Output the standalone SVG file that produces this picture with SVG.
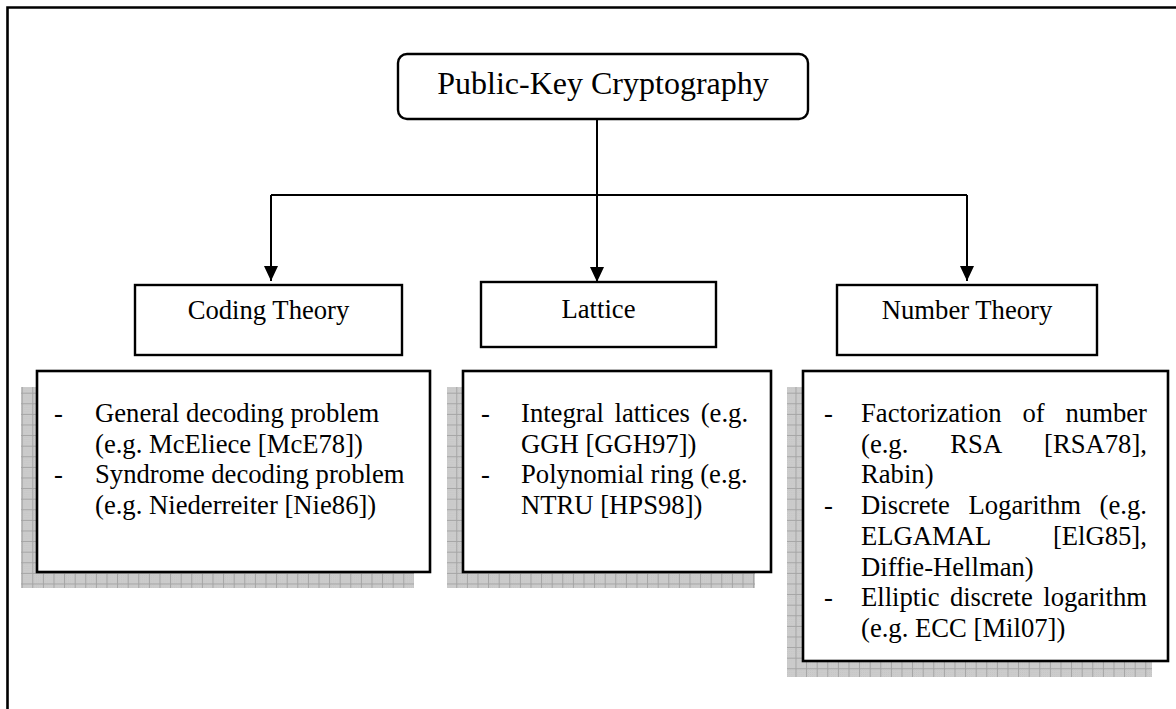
<svg xmlns="http://www.w3.org/2000/svg" width="1176" height="709" viewBox="0 0 1176 709">
  <style>
    .frame { fill: none; stroke: #000; stroke-width: 2.6; }
    .box { fill: #fff; stroke: #000; stroke-width: 2.4; }
    .card { fill: #fff; stroke: #000; stroke-width: 2.6; }
    .shadow { fill: url(#gridShade); }
    .wire { fill: none; stroke: #000; stroke-width: 2; }
    text { font-family: "Liberation Serif", "Times New Roman", serif; fill: #000; }
    .title { font-size: 32px; text-anchor: middle; }
    .label { font-size: 26.67px; text-anchor: middle; }
    .item { font-size: 26.67px; }
  </style>
  <defs>
    <!-- fine grain under the shadow grid -->
    <pattern id="grain" width="2" height="2" patternUnits="userSpaceOnUse">
      <rect width="2" height="2" fill="#d2d2d2"/>
      <rect width="1" height="1" fill="#c2c2c2"/>
      <rect x="1" y="1" width="1" height="1" fill="#c6c6c6"/>
    </pattern>
    <pattern id="gridShade" width="10.6" height="10.6" patternUnits="userSpaceOnUse" x="0.5" y="0.5">
      <rect width="10.6" height="10.6" fill="url(#grain)"/>
      <path d="M0,0.5 H10.6 M0.5,0 V10.6" stroke="#a4a4a4" stroke-width="1" fill="none"/>
    </pattern>
    <marker id="arrow" markerUnits="userSpaceOnUse" markerWidth="14" markerHeight="16" refX="15" refY="7" orient="auto">
      <path d="M0,0 L15,7 L0,14 z" fill="#000"/>
    </marker>
  </defs>

  <!-- page frame (runs off the right and bottom edges) -->
  <path class="frame" d="M7.5,709 V7.5 H1180"/>

  <!-- connectors -->
  <g id="connectors">
    <path class="wire" d="M597,119 V195"/>
    <path class="wire" d="M271,195 H967"/>
    <path class="wire" d="M271,195 V281" marker-end="url(#arrow)"/>
    <path class="wire" d="M597,195 V282" marker-end="url(#arrow)"/>
    <path class="wire" d="M967,195 V281" marker-end="url(#arrow)"/>
  </g>

  <g id="public-key-cryptography">
    <rect class="box" x="398" y="54" width="410" height="65" rx="9" ry="9"/>
    <text class="title" x="603" y="94">Public-Key Cryptography</text>
  </g>

  <g id="coding-theory">
    <rect class="box" x="135" y="285" width="267" height="70"/>
    <text class="label" x="268.5" y="319">Coding Theory</text>
  </g>

  <g id="lattice">
    <rect class="box" x="481" y="282" width="235" height="65"/>
    <text class="label" x="598.5" y="318">Lattice</text>
  </g>

  <g id="number-theory">
    <rect class="box" x="837" y="285" width="260" height="70"/>
    <text class="label" x="967" y="319">Number Theory</text>
  </g>

  <g id="coding-theory-schemes">
    <rect class="shadow" x="21" y="387" width="393" height="201"/>
    <rect class="card" x="37" y="371" width="393" height="201"/>
    <text class="item" x="54" y="421.7">-</text>
    <text class="item" x="95" y="421.7">General decoding problem</text>
    <text class="item" x="95" y="452.5">(e.g. McEliece [McE78])</text>
    <text class="item" x="54" y="483.2">-</text>
    <text class="item" x="95" y="483.2">Syndrome decoding problem</text>
    <text class="item" x="95" y="514">(e.g. Niederreiter [Nie86])</text>
  </g>

  <g id="lattice-schemes">
    <rect class="shadow" x="447" y="387" width="308" height="201"/>
    <rect class="card" x="463" y="371" width="308" height="201"/>
    <text class="item" x="481" y="421.7">-</text>
    <text class="item" y="421.7"><tspan x="521">Integral</tspan><tspan x="614.5">lattices</tspan><tspan x="700.7">(e.g.</tspan></text>
    <text class="item" x="521" y="452.5">GGH [GGH97])</text>
    <text class="item" x="481" y="483.2">-</text>
    <text class="item" x="521" y="483.2">Polynomial ring (e.g.</text>
    <text class="item" x="521" y="514">NTRU [HPS98])</text>
  </g>

  <g id="number-theory-schemes">
    <rect class="shadow" x="787" y="387" width="365" height="290"/>
    <rect class="card" x="803" y="371" width="365" height="290"/>
    <text class="item" x="824" y="421.7">-</text>
    <text class="item" y="421.7"><tspan x="861">Factorization</tspan><tspan x="1022.5">of</tspan><tspan x="1065.5">number</tspan></text>
    <text class="item" y="452.5"><tspan x="861">(e.g.</tspan><tspan x="950.3">RSA</tspan><tspan x="1044">[RSA78],</tspan></text>
    <text class="item" x="861" y="483.2">Rabin)</text>
    <text class="item" x="824" y="514">-</text>
    <text class="item" y="514"><tspan x="861">Discrete</tspan><tspan x="968.5">Logarithm</tspan><tspan x="1099.6">(e.g.</tspan></text>
    <text class="item" y="544.7"><tspan x="861">ELGAMAL</tspan><tspan x="1052.9">[ElG85],</tspan></text>
    <text class="item" x="861" y="575.5">Diffie-Hellman)</text>
    <text class="item" x="824" y="606.3">-</text>
    <text class="item" y="606.3"><tspan x="861">Elliptic</tspan><tspan x="949.9">discrete</tspan><tspan x="1043.3">logarithm</tspan></text>
    <text class="item" x="861" y="637">(e.g. ECC [Mil07])</text>
  </g>
</svg>
